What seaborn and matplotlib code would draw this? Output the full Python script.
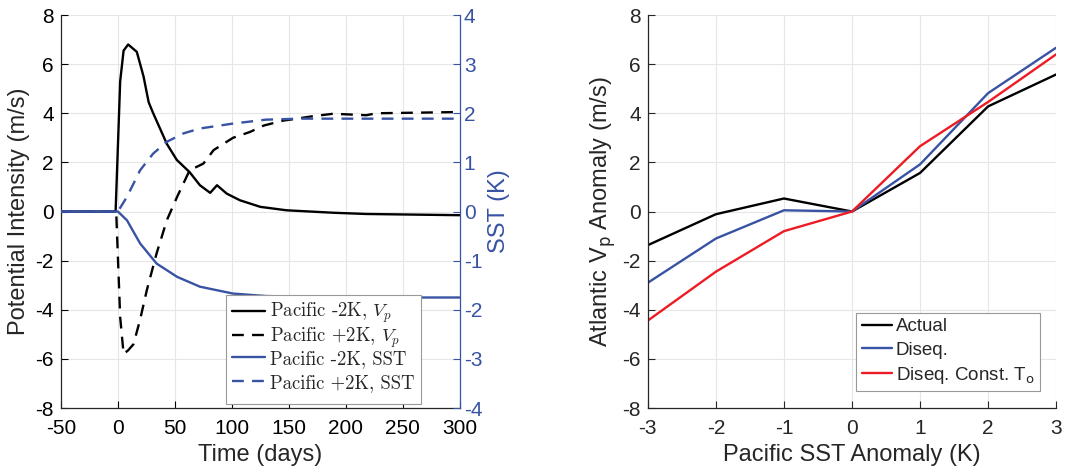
import matplotlib.pyplot as plt
import seaborn as sns
import numpy as np
import pandas as pd

# left panel: time series (days)
t_vp_cold = [-50, -2, 2, 5, 9, 16.6, 22.5, 27, 31, 43, 51.7, 63, 72, 81, 87, 95.5, 107, 125, 148, 189, 218, 300]
vp_cold = [0, 0, 5.3, 6.55, 6.8, 6.5, 5.5, 4.45, 4.0, 2.75, 2.1, 1.6, 1.07, 0.76, 1.07, 0.73, 0.46, 0.19, 0.05, -0.05, -0.1, -0.15]
t_vp_warm = [-50, -1.5, 2, 5, 9, 13.7, 19.5, 25.4, 34, 43, 52, 63, 75, 84, 101, 116, 128, 145, 157, 171, 189, 218, 227, 300]
vp_warm = [0, 0, -4.3, -5.8, -5.65, -5.4, -4.4, -3.2, -1.7, -0.35, 0.6, 1.68, 1.95, 2.5, 3.0, 3.24, 3.5, 3.7, 3.78, 3.88, 3.98, 3.92, 4.0, 4.05]
t_sst = [-50, 0, 8, 19.5, 34, 52, 72, 101, 130, 189, 300]
sst_cold = [0, 0, -0.18, -0.65, -1.06, -1.33, -1.53, -1.67, -1.72, -1.75, -1.75]
t_sst_warm = [-50, 0, 8, 19.5, 31, 43, 57.5, 72, 101, 130, 160, 300]
sst_warm = [0, 0, 0.3, 0.84, 1.18, 1.42, 1.59, 1.69, 1.79, 1.87, 1.89, 1.89]

# right panel
pac_sst = [-3, -2, -1, 0, 1, 2, 3]
actual = [-1.37, -0.11, 0.53, 0, 1.57, 4.28, 5.58]
diseq = [-2.9, -1.1, 0.05, 0, 1.92, 4.82, 6.67]
diseq_const = [-4.44, -2.45, -0.8, 0, 2.66, 4.46, 6.4]

blue = '#3953a4'
red = '#ed1c24'
dash = (0, (5, 3.5))

sns.set_theme(style='ticks')
plt.rcParams['font.family'] = ['Liberation Sans', 'DejaVu Sans']
plt.rcParams['axes.unicode_minus'] = False
plt.rcParams['xtick.direction'] = 'in'
plt.rcParams['ytick.direction'] = 'in'
plt.rcParams['axes.linewidth'] = 0.9

fig = plt.figure(figsize=(10.69, 4.69), dpi=100)
ax = fig.add_axes([0.057, 0.130, 0.373, 0.838])
ax2 = ax.twinx()
axr = fig.add_axes([0.606, 0.130, 0.382, 0.838])

fs = 15
lfs = 17
lw = 1.7

sns.lineplot(x=t_vp_cold, y=vp_cold, ax=ax, color='black', lw=lw, estimator=None)
sns.lineplot(x=t_vp_warm, y=vp_warm, ax=ax, color='black', lw=lw, linestyle=dash, estimator=None)
sns.lineplot(x=t_sst, y=sst_cold, ax=ax2, color=blue, lw=lw, estimator=None)
sns.lineplot(x=t_sst_warm, y=sst_warm, ax=ax2, color=blue, lw=lw, linestyle=dash, estimator=None)

ax.set_xlim(-50, 300)
ax.set_ylim(-8, 8)
ax2.set_ylim(-4, 4)
ax.set_xticks(np.arange(-50, 301, 50))
ax.set_yticks(np.arange(-8, 9, 2))
ax2.set_yticks(np.arange(-4, 5, 1))
ax.grid(True, color='#e6e6e6', lw=0.8)
ax.set_axisbelow(True)
ax.set_xlabel('Time (days)', fontsize=lfs, labelpad=4)
ax.set_ylabel('Potential Intensity (m/s)', fontsize=lfs, labelpad=4)
ax2.set_ylabel('SST (K)', fontsize=lfs, color=blue, labelpad=4)
ax.tick_params(labelsize=fs, length=5, width=0.8, colors='black')
ax.tick_params(axis='x', pad=8)
ax.tick_params(axis='y', pad=5, right=False)
ax2.tick_params(labelsize=fs, length=5, width=0.8, colors=blue, pad=3)
ax.spines['top'].set_visible(False)
ax2.spines['top'].set_visible(False)
ax2.spines['left'].set_visible(False)
ax2.spines['bottom'].set_visible(False)
ax2.spines['right'].set_color(blue)
ax.spines['right'].set_visible(False)

handles = ax.get_lines()[:2] + ax2.get_lines()[:2]
labels = ['Pacific -2K, $V_p$', 'Pacific +2K, $V_p$',
          'Pacific -2K, SST', 'Pacific +2K, SST']
leg = ax2.legend(handles, labels, loc='lower right', bbox_to_anchor=(0.902, 0.01),
                 prop={'family': 'cmr10', 'size': 13.5}, frameon=True, fancybox=False,
                 framealpha=1, edgecolor='#999999', handlelength=1.75, handletextpad=0.3,
                 labelspacing=0.0, borderpad=0.3, borderaxespad=0)
leg.get_frame().set_linewidth(0.8)
for t in leg.get_texts():
    t.set_math_fontfamily('cm')
# even row spacing (subscripted rows are taller)
leg._legend_handle_box.get_children()[0].mode = 'equal'

# right panel
sns.lineplot(x=pac_sst, y=actual, ax=axr, color='black', lw=lw, label='Actual', estimator=None)
sns.lineplot(x=pac_sst, y=diseq, ax=axr, color=blue, lw=lw, label='Diseq.', estimator=None)
sns.lineplot(x=pac_sst, y=diseq_const, ax=axr, color=red, lw=lw,
             label=r'Diseq. Const. T$_{\mathrm{o}}$', estimator=None)
axr.set_xlim(-3, 3)
axr.set_ylim(-8, 8)
axr.set_xticks(np.arange(-3, 4, 1))
axr.set_yticks(np.arange(-8, 9, 2))
axr.grid(True, color='#e6e6e6', lw=0.8)
axr.set_axisbelow(True)
axr.tick_params(labelsize=fs, length=5, width=0.8)
axr.tick_params(axis='x', pad=8)
axr.tick_params(axis='y', pad=5)
axr.spines['top'].set_visible(False)
axr.spines['right'].set_visible(False)
axr.set_xlabel('Pacific SST Anomaly (K)', fontsize=lfs, labelpad=4)
axr.set_ylabel(r'Atlantic V$_{\mathrm{p}}$ Anomaly (m/s)', fontsize=lfs, labelpad=3)
legr = axr.legend(loc='lower right', bbox_to_anchor=(0.961, 0.043), fontsize=13.5,
                  frameon=True, fancybox=False, framealpha=1, edgecolor='#999999',
                  handlelength=1.6, handletextpad=0.2, labelspacing=0.32,
                  borderpad=0.3, borderaxespad=0)
legr.get_frame().set_linewidth(0.8)

fig.savefig('out.png', dpi=100)
